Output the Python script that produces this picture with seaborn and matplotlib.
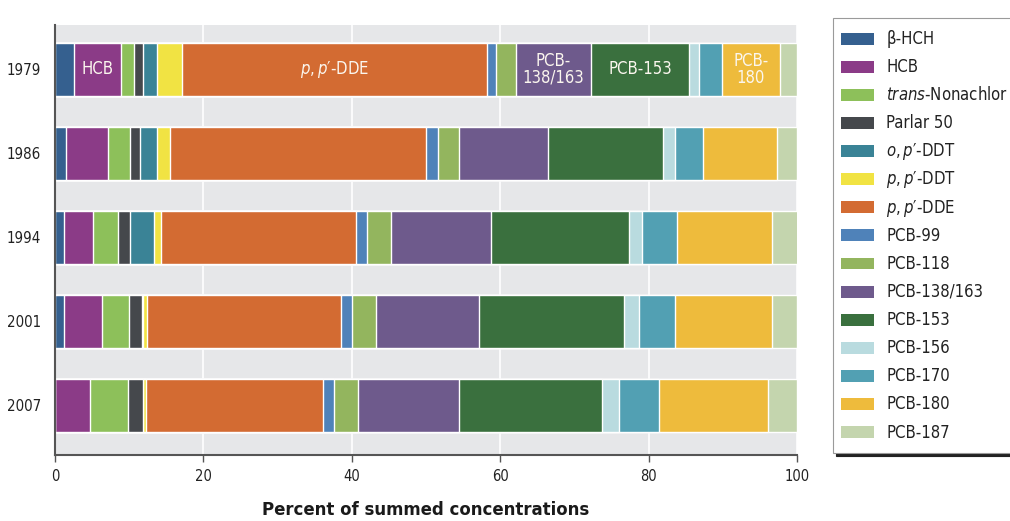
import matplotlib
matplotlib.use("Agg")
import matplotlib.pyplot as plt
import numpy as np
import pandas as pd
import seaborn as sns
from matplotlib.patches import Patch, Rectangle
from matplotlib.legend_handler import HandlerPatch

# Composition of summed organochlorine concentrations by sampling year (%)
years = ["1979", "1986", "1994", "2001", "2007"]

compounds = ["β-HCH", "HCB", "trans-Nonachlor", "Parlar 50", "o,p′-DDT",
             "p,p′-DDT", "p,p′-DDE", "PCB-99", "PCB-118", "PCB-138/163",
             "PCB-153", "PCB-156", "PCB-170", "PCB-180", "PCB-187"]

legend_labels = ["β-HCH", "HCB", r"$\mathit{trans}$-Nonachlor", "Parlar 50",
                 r"$\mathit{o,p}$′-DDT", r"$\mathit{p,p}$′-DDT",
                 r"$\mathit{p,p}$′-DDE", "PCB-99", "PCB-118", "PCB-138/163",
                 "PCB-153", "PCB-156", "PCB-170", "PCB-180", "PCB-187"]

colors = ["#35608f", "#8b3b87", "#8dc05a", "#45484c", "#3a8396",
          "#f1e343", "#d36b32", "#4f82b9", "#93b55e", "#6e5a8c",
          "#3a703e", "#b9dbdf", "#52a0b3", "#eebb3c", "#c4d5ae"]

b_hch       = [2.5, 1.5, 1.15, 1.2, 0.0]
hcb         = [6.4, 5.7, 3.95, 5.1, 4.65]
nonachlor   = [1.8, 2.9, 3.45, 3.7, 5.15]
parlar_50   = [1.2, 1.4, 1.5, 1.7, 2.0]
op_ddt      = [1.8, 2.25, 3.35, 0.15, 0.0]
pp_ddt      = [3.4, 1.8, 0.95, 0.5, 0.5]
pp_dde      = [41.1, 34.4, 26.2, 26.2, 23.8]
pcb_99      = [1.25, 1.6, 1.45, 1.5, 1.5]
pcb_118     = [2.7, 2.85, 3.3, 3.25, 3.25]
pcb_138_163 = [10.1, 12.1, 13.4, 13.9, 13.6]
pcb_153     = [13.25, 15.5, 18.65, 19.5, 19.3]
pcb_156     = [1.25, 1.5, 1.75, 2.0, 2.2]
pcb_170     = [3.1, 3.8, 4.7, 4.8, 5.4]
pcb_180     = [7.9, 10.0, 12.8, 13.15, 14.8]
pcb_187     = [2.25, 2.7, 3.5, 3.4, 3.85]

series = [b_hch, hcb, nonachlor, parlar_50, op_ddt, pp_ddt, pp_dde, pcb_99,
          pcb_118, pcb_138_163, pcb_153, pcb_156, pcb_170, pcb_180, pcb_187]

# In-bar annotations on the 1979 bar
bar_text = {"HCB": "HCB",
            "p,p′-DDE": r"$\mathit{p,p}$′-DDE",
            "PCB-138/163": "PCB-\n138/163",
            "PCB-153": "PCB-153",
            "PCB-180": "PCB-\n180"}

sns.set_theme(style="white")
plt.rcParams["font.family"] = ["DejaVu Sans"]
plt.rcParams["font.stretch"] = "condensed"
plt.rcParams["mathtext.fontset"] = "custom"
plt.rcParams["mathtext.rm"] = "DejaVu Sans:stretch=condensed"
plt.rcParams["mathtext.it"] = "DejaVu Sans:italic:stretch=condensed"
plt.rcParams["mathtext.bf"] = "DejaVu Sans:bold:stretch=condensed"

values = np.array(series, dtype=float)
cumulative = np.cumsum(values, axis=0)

fig = plt.figure(figsize=(10.10, 5.21), dpi=100)
ax = fig.add_axes([55 / 1010, 66 / 521, 742 / 1010, 430 / 521])
ax.set_facecolor("#e6e7e9")

# Stacked bars: draw running totals from the outermost segment inwards
for i in range(len(compounds) - 1, -1, -1):
    df = pd.DataFrame({"year": years, "total": cumulative[i]})
    sns.barplot(data=df, x="total", y="year", order=years, orient="h",
                color=colors[i], saturation=1, width=0.63, ax=ax, zorder=2)

for comp, label in bar_text.items():
    i = compounds.index(comp)
    centre = cumulative[i][0] - values[i][0] / 2
    ax.text(centre, 0, label, ha="center", va="center", color="#fbf6ee",
            fontsize=12, linespacing=0.9, zorder=3)

ax.set_xlim(0, 100)
ax.set_ylim(4.595, -0.53)
ax.set_xticks([0, 20, 40, 60, 80, 100])
ax.xaxis.grid(True, color="white", linewidth=1.2, zorder=0)
ax.set_axisbelow(True)
ax.tick_params(axis="x", bottom=True, length=5, width=1, color="#555555",
               labelsize=10.5, pad=5, labelcolor="#222222")
ax.tick_params(axis="y", left=False, labelsize=10.8, pad=4, labelcolor="#222222")
ax.set_ylabel("")
ax.set_xlabel("Percent of summed concentrations", fontsize=13.2,
              fontweight="bold", labelpad=12, color="#1a1a1a")
for side in ["top", "right"]:
    ax.spines[side].set_visible(False)
for side in ["left", "bottom"]:
    ax.spines[side].set_color("#555555")
    ax.spines[side].set_linewidth(1.5)


def swatch(legend, orig_handle, xdescent, ydescent, width, height, fontsize):
    # colour key of fixed height, centred in a taller row
    h = 8.6
    return Rectangle((-xdescent, -ydescent + (height - h) / 2), width, h)


handles = [Patch(facecolor=c, edgecolor="none") for c in colors]
leg = fig.legend(handles, legend_labels, loc="upper left",
                 bbox_to_anchor=(833 / 1010, 1 - 18 / 521 - 0.01, 200 / 1010, 0.01),
                 mode="expand", borderaxespad=0, frameon=True, fontsize=12,
                 handlelength=1.98, handleheight=1.88, handletextpad=0.72,
                 labelspacing=0.22, borderpad=0.5, fancybox=False,
                 handler_map={Patch: HandlerPatch(patch_func=swatch)},
                 shadow={"color": "#222222", "alpha": 1.0})
leg.get_frame().set_edgecolor("#9a9a9a")
leg.get_frame().set_linewidth(0.8)
leg.get_frame().set_facecolor("white")
for t in leg.get_texts():
    t.set_color("#222222")

fig.savefig("out.png", dpi=100)
